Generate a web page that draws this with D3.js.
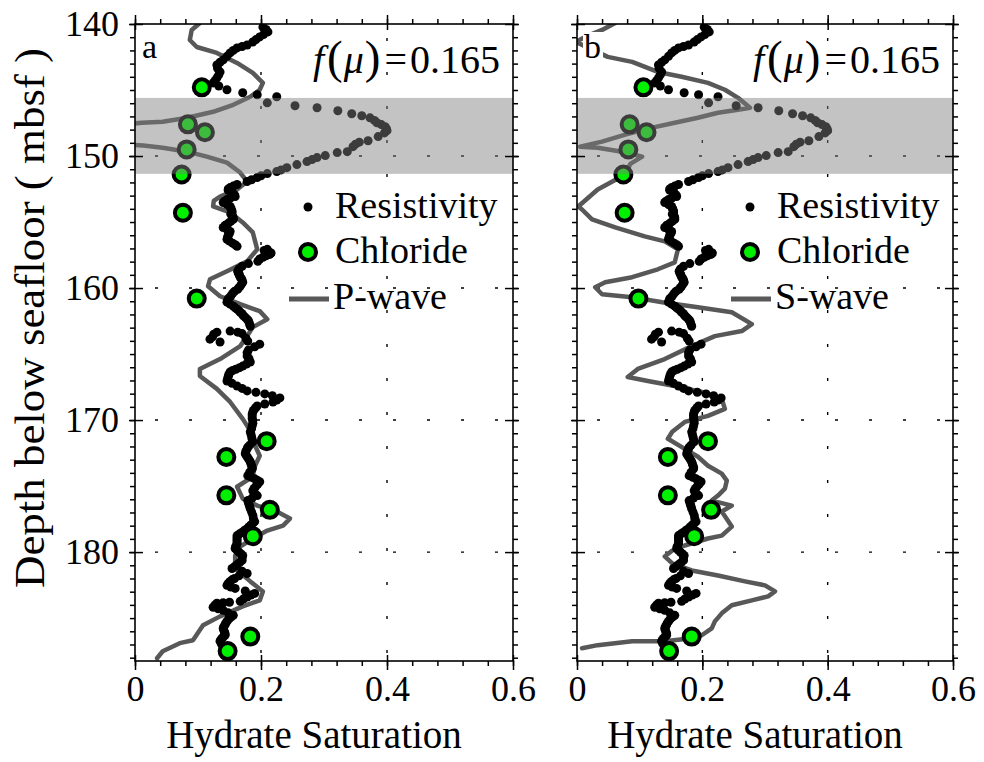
<!DOCTYPE html>
<html><head><meta charset="utf-8">
<script src="https://cdn.jsdelivr.net/npm/d3@7"></script>
<style>
body{margin:0;background:#fff}
text{font-family:"Liberation Serif","Times New Roman",serif;fill:#000}
</style>
</head><body>
<svg id="c" width="984" height="762"></svg>
<script>
// ---------------- data ----------------
const resDepth = [140.23,140.42,140.60,140.80,140.98,141.18,141.36,141.59,141.70,141.81,142.00,142.19,142.45,142.72,142.90,143.10,143.35,143.63,143.85,144.08,144.30,144.46,144.70,144.98,145.21,145.36,145.51,145.97,146.19,146.34,146.57,146.80,146.95,147.11,147.30,147.48,147.62,147.78,147.93,148.08,148.25,148.53,148.84,148.95,149.10,149.29,149.67,149.74,149.97,150.12,150.27,150.42,150.65,150.88,151.05,151.18,151.33,151.50,151.63,151.80,151.93,
152.16,152.28,152.39,152.50,152.60,152.70,152.80,152.95,153.07,153.20,153.30,153.42,153.52,153.67,153.82,153.95,154.05,154.17,154.27,154.40,154.55,154.68,154.80,154.95,155.10,155.25,155.41,155.55,155.71,155.85,156.00,156.15,156.31,156.45,156.60,156.72,156.84,157.07,157.15,157.25,157.35,157.45,157.55,157.67,157.80,157.98,158.15,158.35,158.55,158.73,158.85,158.95,159.05,159.18,159.30,159.40,159.56,159.70,159.85,159.97,160.09,160.25,160.40,160.60,160.80,160.95,161.07,161.22,161.37,161.50,161.60,161.72,161.83,161.95,162.10,162.22,162.36,162.48,162.60,162.75,162.89,
163.26,163.34,163.34,163.50,163.70,163.87,164.09,163.45,163.80,164.02,164.25,164.45,164.70,164.90,165.15,165.35,165.60,165.75,165.91,166.03,166.15,166.25,166.36,166.55,166.70,166.87,167.04,167.22,167.42,167.60,167.79,167.90,168.02,168.15,168.32,168.48,168.63,168.78,168.93,169.05,169.15,169.27,169.38,169.55,169.70,169.88,170.05,170.25,170.44,170.65,170.89,171.05,171.25,171.45,171.65,171.90,172.05,172.18,172.35,172.55,172.70,172.85,173.00,173.16,173.30,173.45,173.58,173.69,173.95,174.21,174.33,174.45,174.56,174.67,174.85,175.00,175.18,175.35,175.55,175.72,175.90,176.10,176.25,176.40,176.55,176.71,176.95,177.20,177.45,177.69,177.82,177.95,178.08,178.22,178.35,178.50,178.62,178.75,178.90,179.05,179.20,179.35,179.55,179.73,179.87,180.00,180.13,180.26,180.45,180.63,180.80,180.95,181.10,181.24,181.45,181.62,181.80,182.00,182.10,182.22,182.37,182.52,182.65,182.75,182.95,183.13,183.25,183.40,183.55,183.73,183.80,183.84,183.88,184.00,184.18,184.30,184.41,184.60,184.79,184.90,185.00,185.12,185.25,185.38,185.50,185.65,185.78,185.92,186.05,186.18,186.30,186.43,186.55,186.65,186.75,186.95,187.13,187.32,187.51,187.70,187.89];
const resSat = [0.203,0.208,0.211,0.204,0.198,0.192,0.187,0.178,0.170,0.162,0.156,0.151,0.146,0.140,0.135,0.130,0.131,0.135,0.133,0.130,0.127,0.124,0.133,0.146,0.171,0.194,0.225,0.210,0.254,0.289,0.322,0.344,0.360,0.373,0.380,0.384,0.391,0.397,0.399,0.400,0.396,0.386,0.370,0.356,0.350,0.346,0.337,0.321,0.302,0.289,0.281,0.273,0.257,0.241,0.232,0.225,0.210,0.200,0.194,0.185,0.178,
0.162,0.156,0.151,0.148,0.148,0.152,0.155,0.158,0.159,0.151,0.146,0.142,0.140,0.146,0.151,0.152,0.153,0.154,0.154,0.152,0.155,0.156,0.156,0.152,0.148,0.143,0.140,0.146,0.151,0.150,0.148,0.147,0.146,0.150,0.155,0.159,0.162,0.210,0.205,0.212,0.216,0.214,0.208,0.203,0.198,0.195,0.180,0.170,0.165,0.163,0.164,0.165,0.166,0.167,0.169,0.170,0.171,0.169,0.167,0.165,0.163,0.158,0.155,0.152,0.148,0.147,0.146,0.151,0.156,0.159,0.162,0.165,0.167,0.170,0.172,0.175,0.178,0.180,0.181,0.182,0.183,
0.151,0.130,0.163,0.125,0.123,0.119,0.135,0.170,0.176,0.179,0.198,0.190,0.180,0.178,0.178,0.181,0.183,0.177,0.171,0.166,0.160,0.155,0.151,0.149,0.148,0.147,0.146,0.154,0.162,0.170,0.178,0.192,0.206,0.218,0.230,0.225,0.219,0.206,0.194,0.192,0.190,0.188,0.187,0.186,0.186,0.186,0.187,0.187,0.186,0.185,0.183,0.184,0.185,0.186,0.187,0.182,0.179,0.178,0.176,0.175,0.177,0.179,0.181,0.183,0.184,0.185,0.186,0.186,0.182,0.179,0.185,0.190,0.194,0.198,0.195,0.192,0.189,0.187,0.190,0.194,0.186,0.179,0.180,0.181,0.182,0.183,0.185,0.187,0.188,0.190,0.187,0.184,0.181,0.178,0.174,0.170,0.166,0.162,0.162,0.162,0.162,0.162,0.160,0.159,0.162,0.165,0.168,0.171,0.170,0.170,0.166,0.162,0.158,0.154,0.170,0.178,0.165,0.158,0.154,0.151,0.148,0.146,0.152,0.159,0.175,0.190,0.184,0.178,0.172,0.167,0.150,0.140,0.130,0.127,0.124,0.132,0.140,0.148,0.156,0.153,0.150,0.148,0.146,0.144,0.143,0.141,0.140,0.141,0.142,0.143,0.143,0.140,0.138,0.136,0.135,0.137,0.140,0.141,0.143,0.145,0.146];

const clDepth = [144.8,147.6,148.2,149.5,151.4,154.3,160.8,171.6,172.8,175.7,176.8,178.8,186.4,187.5];
const clSat   = [0.106,0.084,0.111,0.082,0.074,0.076,0.098,0.209,0.145,0.145,0.214,0.187,0.183,0.147];

const pDepth = [139.92,140.45,141.21,141.74,142.19,142.95,143.70,144.46,144.98,145.51,146.12,146.65,147.10,147.40,147.48,147.70,148.40,149.05,149.21,149.37,149.67,150.05,150.50,151.25,151.93,152.54,153.07,153.40,153.82,154.27,155.03,155.79,157.07,157.98,158.73,159.34,159.86,160.62,161.22,161.75,162.36,162.96,163.64,164.40,165.38,166.13,166.66,167.64,168.63,169.91,170.82,171.57,172.70,173.53,174.29,175.05,175.95,176.48,176.93,177.46,177.99,178.37,178.97,179.58,180.26,181.24,182.22,182.98,183.66,184.11,184.87,185.55,186.68,186.90,187.51,188.04];
const pSat   = [0.103,0.090,0.087,0.098,0.130,0.162,0.187,0.203,0.198,0.183,0.156,0.124,0.083,0.044,0.011,-0.040,-0.060,-0.030,0.013,0.044,0.083,0.114,0.146,0.167,0.178,0.162,0.135,0.125,0.124,0.151,0.171,0.187,0.194,0.178,0.146,0.119,0.116,0.135,0.167,0.198,0.210,0.187,0.178,0.167,0.135,0.103,0.103,0.130,0.151,0.171,0.183,0.187,0.198,0.190,0.187,0.162,0.171,0.194,0.225,0.246,0.235,0.210,0.187,0.167,0.159,0.159,0.183,0.203,0.198,0.171,0.135,0.108,0.092,0.071,0.044,0.035];

const sDepth = [139.92,140.45,140.98,141.36,142.49,142.87,143.63,144.00,144.46,144.98,145.59,146.34,146.50,146.72,147.10,147.48,147.85,148.38,148.91,149.29,149.37,149.67,150.05,150.60,151.40,152.54,153.82,154.05,154.80,155.41,156.09,156.47,157.07,158.05,158.58,159.18,159.56,159.94,160.47,160.69,161.07,161.45,161.83,162.73,163.26,163.64,164.40,165.38,166.13,166.74,167.04,167.42,167.87,168.40,169.15,169.68,170.14,170.89,171.42,172.18,172.78,173.46,174.06,174.59,175.20,175.72,176.10,176.48,176.93,178.07,178.75,178.97,179.20,179.50,179.88,180.33,180.86,181.39,181.77,182.22,182.52,182.98,183.35,183.66,184.03,184.64,185.25,185.78,186.30,186.53,186.75,186.75,187.05,187.28];
const sSat   = [0.061,0.040,0.013,-0.002,0.049,0.088,0.129,0.167,0.209,0.236,0.257,0.276,0.257,0.225,0.193,0.156,0.120,0.077,0.040,0.005,0.033,0.072,0.104,0.085,0.077,0.033,0.002,0.008,0.024,0.061,0.108,0.140,0.161,0.156,0.129,0.088,0.045,0.029,0.040,0.088,0.136,0.193,0.247,0.279,0.263,0.220,0.183,0.140,0.097,0.081,0.113,0.156,0.199,0.231,0.236,0.209,0.172,0.152,0.145,0.172,0.193,0.209,0.231,0.239,0.236,0.225,0.215,0.247,0.231,0.247,0.231,0.209,0.193,0.172,0.152,0.140,0.152,0.183,0.225,0.268,0.300,0.316,0.305,0.279,0.247,0.231,0.220,0.215,0.199,0.183,0.140,0.088,0.033,0.008];

const xTicks = [0, 0.2, 0.4, 0.6];
const xMinor = [0,0.04,0.08,0.12,0.16,0.2,0.24,0.28,0.32,0.36,0.4,0.44,0.48,0.52,0.56,0.6];
const yTicks = [140, 150, 160, 170, 180];
const yMinor = d3.range(140, 189, 1);
const bandDepth = [145.6, 151.35];
const panelLetters = ["a", "b"];
const lineNames = ["P-wave", "S-wave"];
const fmuText = "0.165";

// ---------------- drawing ----------------
const svg = d3.select("#c");
const yTop = 24, yBot = 661;
const y = d3.scaleLinear().domain([140, 188.25]).range([yTop, yBot]);
const panels = [
  {L: 135, R: 513, dep: pDepth, sat: pSat, letter: panelLetters[0], name: lineNames[0], ylab: true},
  {L: 577, R: 953, dep: sDepth, sat: sSat, letter: panelLetters[1], name: lineNames[1], ylab: false}
];
const lineColor = "#585858";
const green = "#00f000";

panels.forEach((p, pi) => {
  const x = d3.scaleLinear().domain([0, 0.6]).range([p.L, p.R]);
  const g = svg.append("g");
  const cid = "clip" + pi;
  svg.append("defs").append("clipPath").attr("id", cid)
    .append("rect").attr("x", p.L).attr("y", yTop).attr("width", p.R - p.L).attr("height", yBot - yTop);

  // grid
  const grid = g.append("g").attr("stroke", "#000").attr("stroke-width", 1.4).attr("stroke-dasharray", "3,31");
  [0.2, 0.4].forEach(v => grid.append("line").attr("x1", x(v)).attr("x2", x(v)).attr("y1", yTop).attr("y2", yBot).attr("stroke-dashoffset", -14));
  [150, 160, 170, 180].forEach(v => grid.append("line").attr("x1", p.L).attr("x2", p.R).attr("y1", y(v)).attr("y2", y(v)).attr("stroke-dashoffset", -20));

  const plot = g.append("g").attr("clip-path", `url(#${cid})`);
  // wave line
  const idx = d3.range(p.dep.length);
  const line = d3.line().x(i => x(p.sat[i])).y(i => y(p.dep[i])).curve(d3.curveLinear);
  plot.append("path").attr("d", line(idx)).attr("fill", "none").attr("stroke", lineColor)
    .attr("stroke-width", 4.5).attr("stroke-linejoin", "round").attr("stroke-linecap", "round");

  // resistivity
  plot.append("g").selectAll("circle").data(d3.range(resDepth.length)).join("circle")
    .attr("cx", i => x(resSat[i])).attr("cy", i => y(resDepth[i])).attr("r", 4.5).attr("fill", "#000");

  // chloride
  plot.append("g").selectAll("circle").data(d3.range(clDepth.length)).join("circle")
    .attr("cx", i => x(clSat[i])).attr("cy", i => y(clDepth[i])).attr("r", 8)
    .attr("fill", green).attr("stroke", "#000").attr("stroke-width", 4);

  // band overlay
  plot.append("rect").attr("x", p.L).attr("width", p.R - p.L)
    .attr("y", y(bandDepth[0])).attr("height", y(bandDepth[1]) - y(bandDepth[0]))
    .attr("fill", "rgb(128,128,128)").attr("fill-opacity", 0.47);

  // axes (ticks)
  const tk = (axis, tr) => {
    const a = g.append("g").attr("transform", tr).call(axis);
    a.select(".domain").remove();
    a.selectAll("line").attr("stroke", "#000").attr("stroke-width", 1.5);
    a.selectAll("text").remove();
    return a;
  };
  tk(d3.axisBottom(x).tickValues(xMinor).tickSize(5), `translate(0,${yBot})`);
  tk(d3.axisTop(x).tickValues(xMinor).tickSize(5), `translate(0,${yTop})`);
  tk(d3.axisBottom(x).tickValues(xTicks).tickSize(9), `translate(0,${yBot})`);
  tk(d3.axisTop(x).tickValues(xTicks).tickSize(9), `translate(0,${yTop})`);
  tk(d3.axisBottom(x).tickValues(xTicks).tickSize(-6), `translate(0,${yBot})`);
  tk(d3.axisTop(x).tickValues(xTicks).tickSize(-6), `translate(0,${yTop})`);
  tk(d3.axisLeft(y).tickValues(yMinor).tickSize(5), `translate(${p.L},0)`);
  tk(d3.axisRight(y).tickValues(yMinor).tickSize(5), `translate(${p.R},0)`);
  tk(d3.axisLeft(y).tickValues(yTicks).tickSize(6), `translate(${p.L},0)`);
  tk(d3.axisRight(y).tickValues(yTicks).tickSize(6), `translate(${p.R},0)`);
  tk(d3.axisLeft(y).tickValues(yTicks).tickSize(-8), `translate(${p.L},0)`);
  tk(d3.axisRight(y).tickValues(yTicks).tickSize(-8), `translate(${p.R},0)`);

  // frame
  g.append("rect").attr("x", p.L).attr("y", yTop).attr("width", p.R - p.L).attr("height", yBot - yTop)
    .attr("fill", "none").attr("stroke", "#000").attr("stroke-width", 1.6);

  // tick labels
  const xl = g.append("g").attr("transform", `translate(0,${yBot})`)
    .call(d3.axisBottom(x).tickValues(xTicks).tickSize(0).tickPadding(14).tickFormat(d => d === 0 ? "0" : d3.format(".1f")(d)));
  xl.select(".domain").remove();
  xl.selectAll("text").attr("font-size", 36).attr("font-family", "Liberation Serif").attr("fill", "#000");
  if (p.ylab) {
    const yl = g.append("g").attr("transform", `translate(${p.L},0)`)
      .call(d3.axisLeft(y).tickValues(yTicks).tickSize(0).tickPadding(16));
    yl.select(".domain").remove();
    yl.selectAll("text").attr("font-size", 36).attr("font-family", "Liberation Serif").attr("fill", "#000");
    g.append("text").attr("transform", `translate(44,318) rotate(-90)`).attr("text-anchor", "middle")
      .attr("font-size", 42).attr("textLength", 540).attr("lengthAdjust", "spacingAndGlyphs")
      .text("Depth below seafloor ( mbsf )");
  }
  g.append("text").attr("x", (p.L + p.R) / 2 - 10).attr("y", 748).attr("text-anchor", "middle")
    .attr("font-size", 39).text("Hydrate Saturation");

  // panel letter with white background
  const lt = g.append("text").attr("x", p.L + 7).attr("y", 58).attr("font-size", 34).text(p.letter);
  const bb = lt.node().getBBox();
  g.insert("rect", () => lt.node()).attr("x", bb.x - 1).attr("y", bb.y + 4).attr("width", bb.width + 3).attr("height", bb.height - 6).attr("fill", "#fff");

  // f(mu) annotation
  const ft = g.append("text").attr("x", p.R - 13).attr("y", 73).attr("text-anchor", "end").attr("font-size", 40);
  ft.append("tspan").attr("font-style", "italic").text("f");
  ft.append("tspan").attr("font-size", 47).attr("dx", 3).text("(");
  ft.append("tspan").attr("font-style", "italic").attr("dx", 1).text("μ");
  ft.append("tspan").attr("font-size", 47).attr("dx", 1).text(")");
  ft.append("tspan").attr("dx", 4).text("=");
  ft.append("tspan").attr("dx", 3).text(fmuText);

  // legend
  const lx = p.L + 173;
  g.append("circle").attr("cx", lx).attr("cy", 207).attr("r", 4.5).attr("fill", "#000");
  g.append("text").attr("x", lx + 27).attr("y", 218).attr("font-size", 38).text("Resistivity");
  g.append("circle").attr("cx", lx).attr("cy", 252).attr("r", 8).attr("fill", green).attr("stroke", "#000").attr("stroke-width", 4);
  g.append("text").attr("x", lx + 27).attr("y", 263).attr("font-size", 38).text("Chloride");
  g.append("line").attr("x1", lx - 19).attr("x2", lx + 21).attr("y1", 299).attr("y2", 299)
    .attr("stroke", lineColor).attr("stroke-width", 5);
  g.append("text").attr("x", lx + 25).attr("y", 309).attr("font-size", 38).text(p.name);
});
</script>
</body></html>
